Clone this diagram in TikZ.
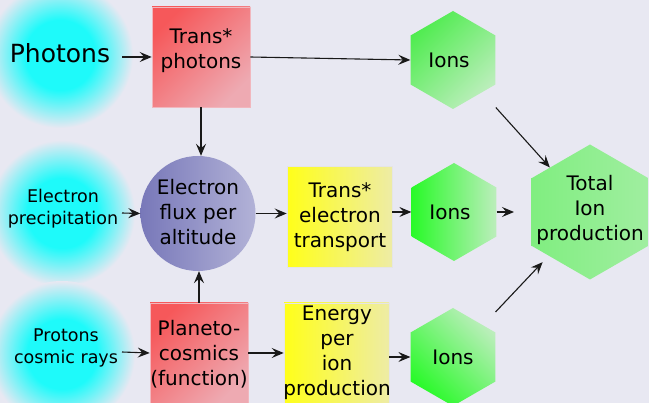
\documentclass[tikz,border=0pt]{standalone}
\usepackage{fontspec}
\setmainfont{DejaVu Sans}
\usetikzlibrary{arrows.meta,shapes.geometric}
\definecolor{bgc}{RGB}{232,232,242}
\definecolor{glowc}{RGB}{30,250,250}
\definecolor{redA}{RGB}{246,88,90}
\definecolor{redB}{RGB}{238,170,178}
\definecolor{yelA}{RGB}{255,255,25}
\definecolor{yelB}{RGB}{238,236,165}
\definecolor{grA}{RGB}{40,250,40}
\definecolor{grH}{RGB}{80,236,80}
\definecolor{grB}{RGB}{188,238,188}
\definecolor{grT}{RGB}{128,238,128}
\definecolor{grU}{RGB}{160,238,160}
\definecolor{circA}{RGB}{120,120,185}
\definecolor{circB}{RGB}{178,178,215}
\pgfdeclareradialshading{glow}{\pgfpointorigin}{color(0bp)=(glowc); color(12bp)=(glowc); color(25bp)=(bgc); color(50bp)=(bgc)}
\begin{document}
\begin{tikzpicture}[x=1pt,y=-1pt,
  glowdisc/.style={circle, inner sep=0, minimum size=146pt, shading=glow},
  redbox/.style={rectangle, inner sep=0, minimum width=98pt, minimum height=100pt,
    top color=redA, bottom color=redB, shading angle=45,
    draw=redB!85!white, line width=0.6pt},
  yelbox/.style={rectangle, inner sep=0, minimum width=105pt, minimum height=101pt,
    left color=yelA, right color=yelB, draw=black!10, line width=0.6pt},
  hexa/.style={regular polygon, regular polygon sides=6, shape border rotate=30,
    inner sep=0, minimum size=98pt},
  lbl/.style={font=\fontsize{20}{25}\selectfont, align=center, inner sep=0},
  sm/.style={font=\fontsize{17.5}{22}\selectfont, align=center, inner sep=0},
  arr/.style={draw=black!90, line width=1.1pt, -{Stealth[length=12pt,width=10pt,inset=4.5pt]}}]
\useasboundingbox (0,0) rectangle (649,403);
\fill[bgc] (0,0) rectangle (649,403);

% glows
\node[glowdisc] (g1) at (60,55) {};
\node[glowdisc] (g2) at (62,213) {};
\node[glowdisc] (g3) at (62,354) {};

% boxes
\node[redbox] (tp) at (201,57) {};
\node[redbox] (pl) at (199,353) {};
\node[yelbox] (yb) at (339.5,217) {};
\node[yelbox, minimum height=100pt] (en) at (336.5,353) {};
\node[circle, inner sep=0, minimum size=115pt, left color=circA, right color=circB] (circ) at (198,213.5) {};

% hexagons
\node[hexa, top color=grH, bottom color=grB, shading angle=45] (ion1) at (453,60) {};
\node[hexa, left color=grA, right color=grB] (ion2) at (454,212) {};
\node[hexa, top color=grA, bottom color=grB, shading angle=135] (ion3) at (453,357) {};
\node[hexa, minimum size=135pt, left color=grT, right color=grU] (tot) at (590,212) {};

% texts
\node[font=\fontsize{25}{30}\selectfont, inner sep=0] (phot) at (60,53) {Photons};
\node[sm] (ep) at (63,209) {Electron\\precipitation};
\node[sm] (pc) at (66,348) {Protons\\cosmic rays};
\node[lbl] (tpt) at (201,51) {Trans*\\photons};
\node[lbl] (cft) at (198,212) {Electron\\flux per\\altitude};
\node[lbl] (ybt) at (340,217) {Trans*\\electron\\transport};
\node[lbl] (plt) at (199,354) {Planeto-\\cosmics\\(function)};
\node[lbl] (ent) at (337,353) {Energy\\per\\ion\\production};
\node[lbl] (tott) at (590,210) {Total\\Ion\\production};
\node[lbl] (i1t) at (449,60) {Ions};
\node[lbl] (i2t) at (450,212) {Ions};
\node[lbl] (i3t) at (453,357) {Ions};

% connectors
\coordinate (s1) at (122,57);
\coordinate (s2) at (122,213);
\coordinate (s3) at (122,352);
\coordinate (e2) at (514,212);
\draw[arr] (s1) -- (tp.west);
\draw[arr] (s2) -- (circ.west);
\draw[arr] (s3) -- (pl.west);
\draw[arr] (tp.east) -- (ion1.180);
\draw[arr] (tp.south) -- (tp.south |- circ.north);
\draw[arr] (pl.north) -- (pl.north |- circ.south);
\draw[arr] (circ.east) -- (circ.east -| yb.west);
\draw[arr] (ion2.180 -| yb.east) -- (ion2.180);
\draw[arr] (pl.east) -- (pl.east -| en.west);
\draw[arr] (ion3.180 -| en.east) -- (ion3.180);
\draw[arr] (ion2.0) -- (e2);
\draw[arr, shorten <=64pt, shorten >=60pt] (ion1.center) -- (tot.center);
\draw[arr, shorten <=62pt, shorten >=69pt] (ion3.center) -- (tot.center);
\end{tikzpicture}
\end{document}
